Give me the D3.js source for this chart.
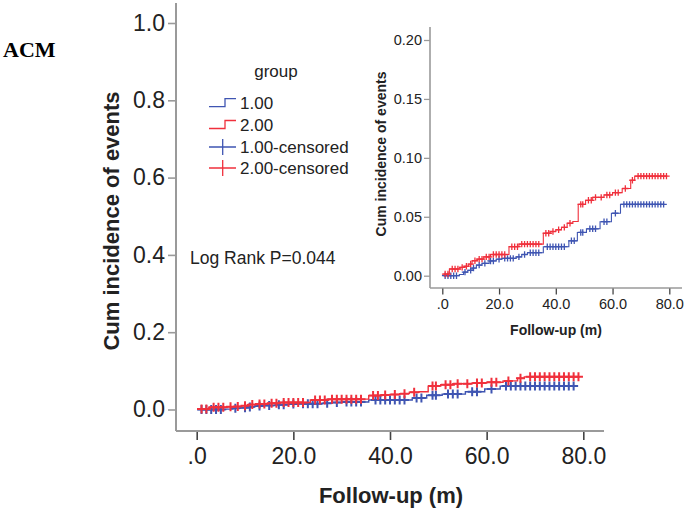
<!DOCTYPE html>
<html>
<head>
<meta charset="utf-8">
<script src="https://cdn.jsdelivr.net/npm/d3@7"></script>
<style>
  html, body { margin: 0; padding: 0; background: #fff; }
  svg { display: block; font-family: "Liberation Sans", Arial, sans-serif; }
</style>
</head>
<body>
<svg id="chart" width="685" height="510"></svg>
<script>
// ---------- DATA ----------
const groups = ["1.00", "2.00"];
// group 1.00: event step times (months) and cumulative incidence after each step
const g1Time = [0.3, 6, 7.5, 9, 10.5, 12, 14, 16.5, 19, 21, 26, 28, 30, 35.6, 44.6, 47.6, 50.8, 55.6, 59.6, 62.8];
const g1Cum  = [0, 0.001, 0.003, 0.0045, 0.0065, 0.009, 0.0105, 0.0125, 0.014, 0.0147, 0.016, 0.018, 0.0195, 0.0246, 0.0296, 0.0367, 0.0398, 0.0458, 0.053, 0.0605];
const g1End = 78.3;
// group 2.00
const g2Time = [0.3, 2.5, 6.2, 8, 9.3, 10.5, 12.3, 14.6, 17, 23.5, 27, 35.6, 38, 40, 42, 44, 46, 47.9, 50.5, 53, 57, 60, 63.4, 66.4, 67.8];
const g2Cum  = [0.0014, 0.0057, 0.0071, 0.008, 0.0099, 0.0127, 0.0141, 0.016, 0.018, 0.0246, 0.0268, 0.036, 0.0375, 0.039, 0.041, 0.0445, 0.046, 0.0605, 0.064, 0.0665, 0.0685, 0.0705, 0.074, 0.081, 0.0845];
const g2End = 79.3;
// censored observation times
const g1Censor = [1, 2, 3, 4, 5, 8, 10, 11, 13, 15, 17, 18, 20, 22, 23, 24, 25, 27, 29, 31, 32, 33, 34, 37, 38, 39, 40, 41, 42, 43, 45.5, 46.5, 48.8, 49.5, 52, 53, 54, 57, 58, 61, 64, 65, 66, 67, 68, 69, 70, 71, 72, 73, 74, 75, 76, 77, 78];
const g2Censor = [1, 2, 3.5, 4.5, 5.5, 7, 8.5, 10, 11.5, 13, 14, 15.5, 16.5, 18, 19, 20, 21, 22, 24.5, 25.5, 26.5, 28, 29, 30, 31, 32, 33, 34, 36.5, 37.5, 39, 41, 43, 45, 48.8, 49.5, 51.5, 52.5, 54, 56, 58, 59, 61, 62, 64.5, 67, 69, 70, 71, 72, 73, 74, 75, 76, 77, 78, 79];
// axis ticks
const mainYTicks = [0, 0.2, 0.4, 0.6, 0.8, 1.0];
const insetYTicks = [0, 0.05, 0.10, 0.15, 0.20];
const xTicks = [0, 20, 40, 60, 80];
const xTickLabels = [".0", "20.0", "40.0", "60.0", "80.0"];
const legendLabels = ["1.00", "2.00", "1.00-censored", "2.00-censored"];

// ---------- STYLE ----------
const BLUE = "#3F55B2";
const RED = "#F0303C";
const AXIS = "#9a9a9a";
const TXT = "#222";

const svg = d3.select("#chart");

function stepValue(times, cums, t) {
  let v = cums[0];
  for (let i = 0; i < times.length; i++) if (times[i] <= t) v = cums[i];
  return v;
}

function buildSeries(times, cums, end) {
  const pts = times.map((t, i) => [t, cums[i]]);
  pts.push([end, cums[cums.length - 1]]);
  return pts;
}

const series = [
  { pts: buildSeries(g1Time, g1Cum, g1End), cens: g1Censor.map(t => [t, stepValue(g1Time, g1Cum, t)]), color: BLUE },
  { pts: buildSeries(g2Time, g2Cum, g2End), cens: g2Censor.map(t => [t, stepValue(g2Time, g2Cum, t)]), color: RED }
];

function drawPanel(cfg) {
  const g = svg.append("g");
  const x = d3.scaleLinear().domain([0, 80]).range([cfg.x0, cfg.x1]);
  const y = d3.scaleLinear().domain(cfg.yDomain).range([cfg.y0, cfg.y1]);

  // axes lines
  g.append("line").attr("x1", cfg.axisX).attr("x2", cfg.axisX).attr("y1", cfg.axisTop).attr("y2", cfg.axisY)
    .attr("stroke", AXIS).attr("stroke-width", cfg.axisW);
  g.append("line").attr("x1", cfg.axisX).attr("x2", cfg.axisRight).attr("y1", cfg.axisY).attr("y2", cfg.axisY)
    .attr("stroke", AXIS).attr("stroke-width", cfg.axisW);

  // y axis ticks via d3 axis
  const yAxis = d3.axisLeft(y).tickValues(cfg.yTicks).tickFormat(cfg.yFmt).tickSize(cfg.tickLen).tickPadding(cfg.tickPad);
  const ya = g.append("g").attr("transform", `translate(${cfg.axisX},0)`).call(yAxis);
  ya.select(".domain").remove();
  ya.selectAll(".tick line").attr("stroke", AXIS).attr("stroke-width", cfg.axisW * 0.8);
  ya.selectAll(".tick text").attr("fill", TXT).style("font-size", cfg.fs + "px").style("font-family", "Liberation Sans, Arial, sans-serif");

  // x axis ticks
  const xAxis = d3.axisBottom(x).tickValues(xTicks).tickFormat((d, i) => xTickLabels[i]).tickSize(cfg.xTickLen).tickPadding(cfg.xTickPad);
  const xa = g.append("g").attr("transform", `translate(0,${cfg.axisY + cfg.xTickGap})`).call(xAxis);
  xa.select(".domain").remove();
  xa.selectAll(".tick line").attr("stroke", "#444").attr("stroke-width", cfg.axisW * 0.8);
  xa.selectAll(".tick text").attr("fill", TXT).style("font-size", cfg.fs + "px").style("font-family", "Liberation Sans, Arial, sans-serif");

  // curves
  const line = d3.line().x(d => x(d[0])).y(d => y(d[1])).curve(d3.curveStepAfter);
  series.forEach(s => {
    g.append("path").attr("d", line(s.pts)).attr("fill", "none").attr("stroke", s.color).attr("stroke-width", cfg.lineW);
    const p = cfg.plus;
    g.append("g").selectAll("path").data(s.cens).join("path")
      .attr("d", d => `M${x(d[0]) - p},${y(d[1])}h${2 * p}M${x(d[0])},${y(d[1]) - p}v${2 * p}`)
      .attr("stroke", s.color).attr("stroke-width", cfg.plusW).attr("fill", "none");
  });

  // titles
  g.append("text").attr("x", cfg.xTitleX).attr("y", cfg.xTitleY).attr("text-anchor", "middle")
    .attr("font-weight", "bold").attr("font-size", cfg.titleFs).attr("fill", TXT).text("Follow-up (m)");
  g.append("text").attr("transform", `translate(${cfg.yTitleX},${cfg.yTitleY}) rotate(-90)`).attr("text-anchor", "middle")
    .attr("font-weight", "bold").attr("font-size", cfg.titleFs).attr("fill", TXT).text("Cum incidence of events");
}

// main panel
drawPanel({
  x0: 196.7, x1: 583.3, yDomain: [0, 1], y0: 409.5, y1: 23,
  axisX: 176, axisTop: 3, axisY: 431, axisRight: 604, axisW: 2,
  yTicks: mainYTicks, yFmt: d3.format(".1f"), tickLen: 8, tickPad: 3, fs: 23,
  xTickLen: 8, xTickPad: 8, xTickGap: 1,
  lineW: 1.4, plus: 4.5, plusW: 2,
  xTitleX: 391, xTitleY: 503, yTitleX: 119, yTitleY: 221, titleFs: 22
});

// inset panel
drawPanel({
  x0: 442.3, x1: 669.3, yDomain: [0, 0.2], y0: 275.7, y1: 40,
  axisX: 430, axisTop: 27, axisY: 288, axisRight: 682, axisW: 1.6,
  yTicks: insetYTicks, yFmt: d3.format(".2f"), tickLen: 6, tickPad: 2, fs: 14.5,
  xTickLen: 6, xTickPad: 4, xTickGap: 0.5,
  lineW: 1.1, plus: 3.2, plusW: 1.3,
  xTitleX: 556, xTitleY: 335, yTitleX: 386, yTitleY: 154, titleFs: 14
});

// legend
const leg = svg.append("g");
leg.append("text").attr("x", 276).attr("y", 77).attr("text-anchor", "middle").attr("font-size", 17).attr("fill", TXT).text("group");
const legY = [102.7, 124.5, 147, 168];
legendLabels.forEach((lab, i) => {
  const cy = legY[i];
  const col = i % 2 === 0 ? BLUE : RED;
  if (i < 2) {
    leg.append("path").attr("d", `M209,${cy + 4}H225V${cy - 4}H236`).attr("stroke", col).attr("stroke-width", 1.3).attr("fill", "none");
  } else {
    leg.append("path").attr("d", `M209,${cy}H236M222.7,${cy - 8}V${cy + 8}`).attr("stroke", col).attr("stroke-width", 1.3).attr("fill", "none");
  }
  leg.append("text").attr("x", 240).attr("y", cy + 6).attr("font-size", 17).attr("fill", TXT).text(lab);
});

// annotation
svg.append("text").attr("x", 190).attr("y", 264).attr("font-size", 17.5).attr("fill", TXT).text("Log Rank P=0.044");
svg.append("text").attr("x", 3).attr("y", 57).attr("font-family", "Liberation Serif, Times New Roman, serif")
  .attr("font-weight", "bold").attr("font-size", 22).attr("fill", "#000").text("ACM");
</script>
</body>
</html>
